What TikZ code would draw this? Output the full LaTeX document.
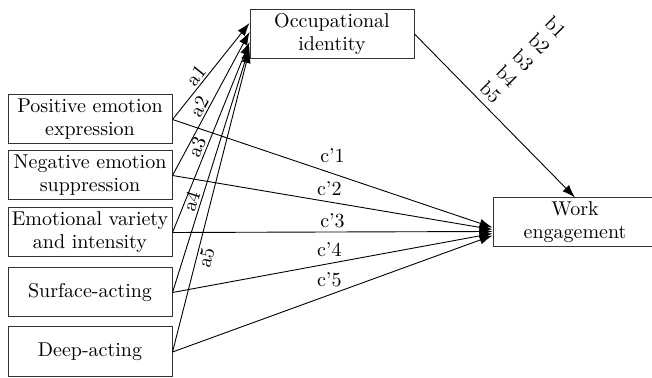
\documentclass[tikz,border=0pt]{standalone}
\usetikzlibrary{arrows.meta,calc}
\begin{document}
\begin{tikzpicture}[x=0.5pt,y=-0.5pt,
  box/.style={draw=black!80, line width=0.5pt, minimum width=82pt, minimum height=24.5pt,
    align=center, inner sep=0pt, font=\fontsize{10}{11.5}\selectfont},
  conn/.style={-{Latex[length=6.5pt,width=4.5pt]}, line width=0.45pt},
  lab/.style={font=\fontsize{10}{11.5}\selectfont, inner sep=1pt}]
\useasboundingbox (0,0) rectangle (652,378);
\clip (0,0) rectangle (652,378);
% nodes
\node[box] (pos)  at (90,119.5) {Positive emotion\\expression};
\node[box] (neg)  at (90,175.5) {Negative emotion\\suppression};
\node[box] (emo)  at (90,232.5) {Emotional variety\\and intensity};
\node[box] (surf) at (90,292.5) {Surface-acting};
\node[box, minimum height=25pt] (deep) at (90,352) {Deep-acting};
\node[box] (oi) at (332,34) {Occupational\\identity};
\node[box] (we) at (575,222.5) {Work\\engagement};
% a paths
\draw[conn] (pos.east)  -- node[lab,sloped,above,pos=0.40]{a1} ($(oi.west)+(0,-11)$);
\draw[conn] (neg.east)  -- node[lab,sloped,above,pos=0.45]{a2} ($(oi.west)+(0,-2)$);
\draw[conn] (emo.east)  -- node[lab,sloped,above,pos=0.43]{a3} ($(oi.west)+(0,8)$);
\draw[conn] (surf.east) -- node[lab,sloped,above,pos=0.36]{a4} ($(oi.west)+(0,13)$);
\draw[conn] (deep.east) -- node[lab,sloped,below,pos=0.32]{a5} ($(oi.west)+(0,16)$);
% c' paths
\draw[conn] (pos.east)  -- node[lab,above=4pt,pos=0.5]{c’1} ($(we.west)+(0,5)$);
\draw[conn] (neg.east)  -- node[lab,above=2pt,pos=0.49]{c’2} ($(we.west)+(0,7)$);
\draw[conn] (emo.east)  -- node[lab,above=1pt,pos=0.5]{c’3} ($(we.west)+(0,9)$);
\draw[conn] (surf.east) -- node[lab,above=2pt,pos=0.49]{c’4} ($(we.west)+(0,11)$);
\draw[conn] (deep.east) -- node[lab,above=3pt,pos=0.49]{c’5} ($(we.west)+(0,13)$);
% b path
\draw[conn] (oi.east) -- (we.north);
\node[lab, rotate=-45, align=center] (blab) at (523,60) {b1\\b2\\b3\\b4\\b5};
\end{tikzpicture}
\end{document}
